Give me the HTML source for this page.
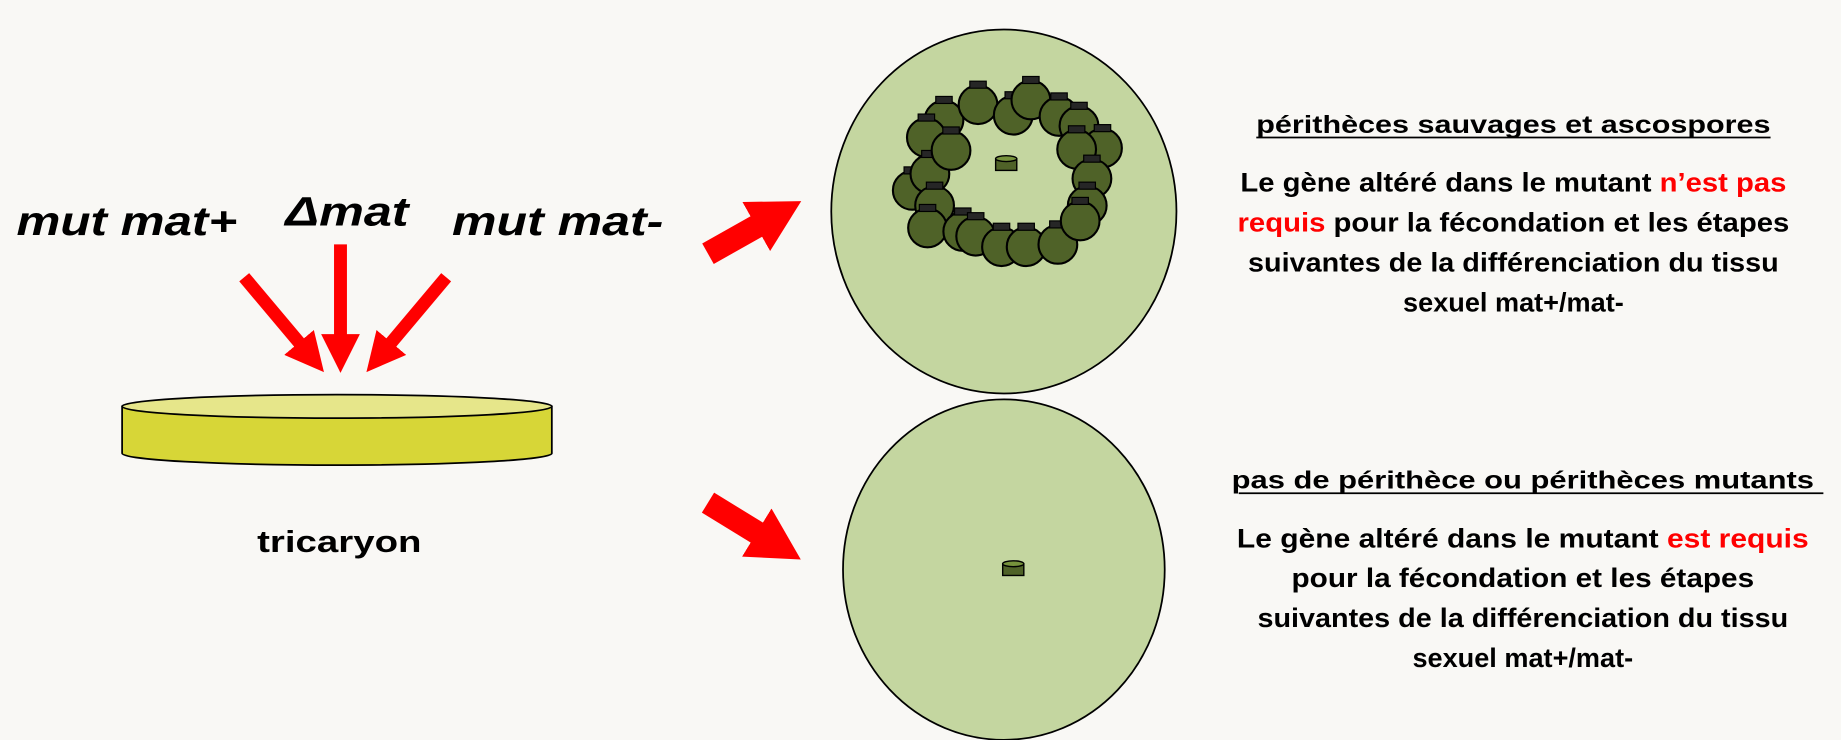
<!DOCTYPE html>
<html><head><meta charset="utf-8"><style>
html,body{margin:0;padding:0;background:#f9f8f5;}
svg{display:block;}
text{font-family:"Liberation Sans",sans-serif;font-weight:bold;fill:#000;}
</style></head><body>
<svg width="1841" height="740" viewBox="0 0 1568 630">
<rect width="1568" height="630" fill="#f9f8f5"/>
<defs>
<marker id="ah" markerWidth="3" markerHeight="3" refX="1.6" refY="1.5" orient="auto" markerUnits="strokeWidth"><path d="M0,0 L3,1.5 L0,3 z" fill="#ff0000"/></marker>
<marker id="ahb" markerWidth="2.2" markerHeight="2.4" refX="1.2" refY="1.2" orient="auto" markerUnits="strokeWidth"><path d="M0,0 L2.2,1.2 L0,2.4 z" fill="#ff0000"/></marker>
</defs>
<g>
<text x="14" y="200" font-size="35" font-style="italic" textLength="188" lengthAdjust="spacingAndGlyphs">mut mat+</text>
<text x="243" y="192" font-size="35" font-style="italic" textLength="105" lengthAdjust="spacingAndGlyphs">Δmat</text>
<text x="385" y="200" font-size="35" font-style="italic" textLength="180" lengthAdjust="spacingAndGlyphs">mut mat-</text>
</g>
<g stroke="#ff0000">
<line x1="208" y1="236" x2="266" y2="305" stroke-width="11" marker-end="url(#ah)"/>
<line x1="290" y1="208" x2="290" y2="302" stroke-width="11" marker-end="url(#ah)"/>
<line x1="380" y1="236" x2="322" y2="305" stroke-width="11" marker-end="url(#ah)"/>
</g>
<g stroke="#000" stroke-width="1.5">
<path d="M104,346 L104,386 A183,10 0 0 0 470,386 L470,346 Z" fill="#d7d637"/>
<ellipse cx="287" cy="346" rx="183" ry="10" fill="#e6e68a"/>
</g>
<text x="289" y="470" font-size="26" text-anchor="middle" textLength="140" lengthAdjust="spacingAndGlyphs">tricaryon</text>
<line x1="603" y1="216" x2="665" y2="181" stroke="#ff0000" stroke-width="20" marker-end="url(#ahb)"/>
<line x1="603" y1="428" x2="665" y2="466" stroke="#ff0000" stroke-width="20" marker-end="url(#ahb)"/>
<ellipse cx="855" cy="180" rx="147" ry="155" fill="#c4d6a0" stroke="#000" stroke-width="1.5"/>
<ellipse cx="855" cy="485" rx="137" ry="145" fill="#c4d6a0" stroke="#000" stroke-width="1.5"/>
<g id="peri"></g>
<g stroke="#000" stroke-width="1.2" fill="#4f6228">
<rect x="848" y="135" width="18" height="10"/><ellipse cx="857" cy="135" rx="9" ry="2.5" fill="#76923c"/>
</g>
<g stroke="#000" stroke-width="1.2" fill="#4f6228">
<rect x="854" y="480" width="18" height="10"/><ellipse cx="863" cy="480" rx="9" ry="2.5" fill="#76923c"/>
</g>
<g>
<text x="1289" y="113" font-size="21" text-anchor="middle" textLength="438" lengthAdjust="spacingAndGlyphs">périthèces sauvages et ascospores</text>
<line x1="1070" y1="117" x2="1508" y2="117" stroke="#000" stroke-width="1.5"/>
<text x="1289" y="163" font-size="23" text-anchor="middle" textLength="465" lengthAdjust="spacingAndGlyphs">Le gène altéré dans le mutant <tspan fill="#ff0000">n’est pas</tspan></text>
<text x="1289" y="197" font-size="23" text-anchor="middle" textLength="470" lengthAdjust="spacingAndGlyphs"><tspan fill="#ff0000">requis</tspan> pour la fécondation et les étapes</text>
<text x="1289" y="231" font-size="23" text-anchor="middle" textLength="452" lengthAdjust="spacingAndGlyphs">suivantes de la différenciation  du tissu</text>
<text x="1289" y="265" font-size="23" text-anchor="middle" textLength="188" lengthAdjust="spacingAndGlyphs">sexuel mat+/mat-</text>
</g>
<g>
<text x="1297" y="416" font-size="21" text-anchor="middle" textLength="496" lengthAdjust="spacingAndGlyphs">pas de périthèce ou périthèces mutants</text>
<line x1="1055" y1="420" x2="1553" y2="420" stroke="#000" stroke-width="1.5"/>
<text x="1297" y="466" font-size="23" text-anchor="middle" textLength="487" lengthAdjust="spacingAndGlyphs">Le gène altéré dans le mutant <tspan fill="#ff0000">est requis</tspan></text>
<text x="1297" y="500" font-size="23" text-anchor="middle" textLength="394" lengthAdjust="spacingAndGlyphs">pour la fécondation et les étapes</text>
<text x="1297" y="534" font-size="23" text-anchor="middle" textLength="452" lengthAdjust="spacingAndGlyphs">suivantes de la différenciation  du tissu</text>
<text x="1297" y="568" font-size="23" text-anchor="middle" textLength="188" lengthAdjust="spacingAndGlyphs">sexuel mat+/mat-</text>
</g>
</svg>
<script>
const periX=[804,789,833,863,878,902,919,939,917,930,777,792,796,790,820,831,853,874,901,926,920,810];
const periY=[102,117,89,98,85,99,107,126,127,152,162,148,175,194,197,201,210,210,208,175,188,128];
const g=document.getElementById('peri');
const ns='http://www.w3.org/2000/svg';
for(let i=0;i<periX.length;i++){
  const p=document.createElementNS(ns,'g');
  
  
  const c=document.createElementNS(ns,'circle');
  c.setAttribute('cx',periX[i]);c.setAttribute('cy',periY[i]);c.setAttribute('r',16.5);
  c.setAttribute('fill','#4f6228');c.setAttribute('stroke','#000');c.setAttribute('stroke-width','1.8');
  const r=document.createElementNS(ns,'rect');
  r.setAttribute('x',periX[i]-7);r.setAttribute('y',periY[i]-20);r.setAttribute('width',14);r.setAttribute('height',6);
  r.setAttribute('fill','#262626');r.setAttribute('stroke','#000');r.setAttribute('stroke-width','1');
  p.appendChild(c);p.appendChild(r);g.appendChild(p);
}
</script>
</body></html>
